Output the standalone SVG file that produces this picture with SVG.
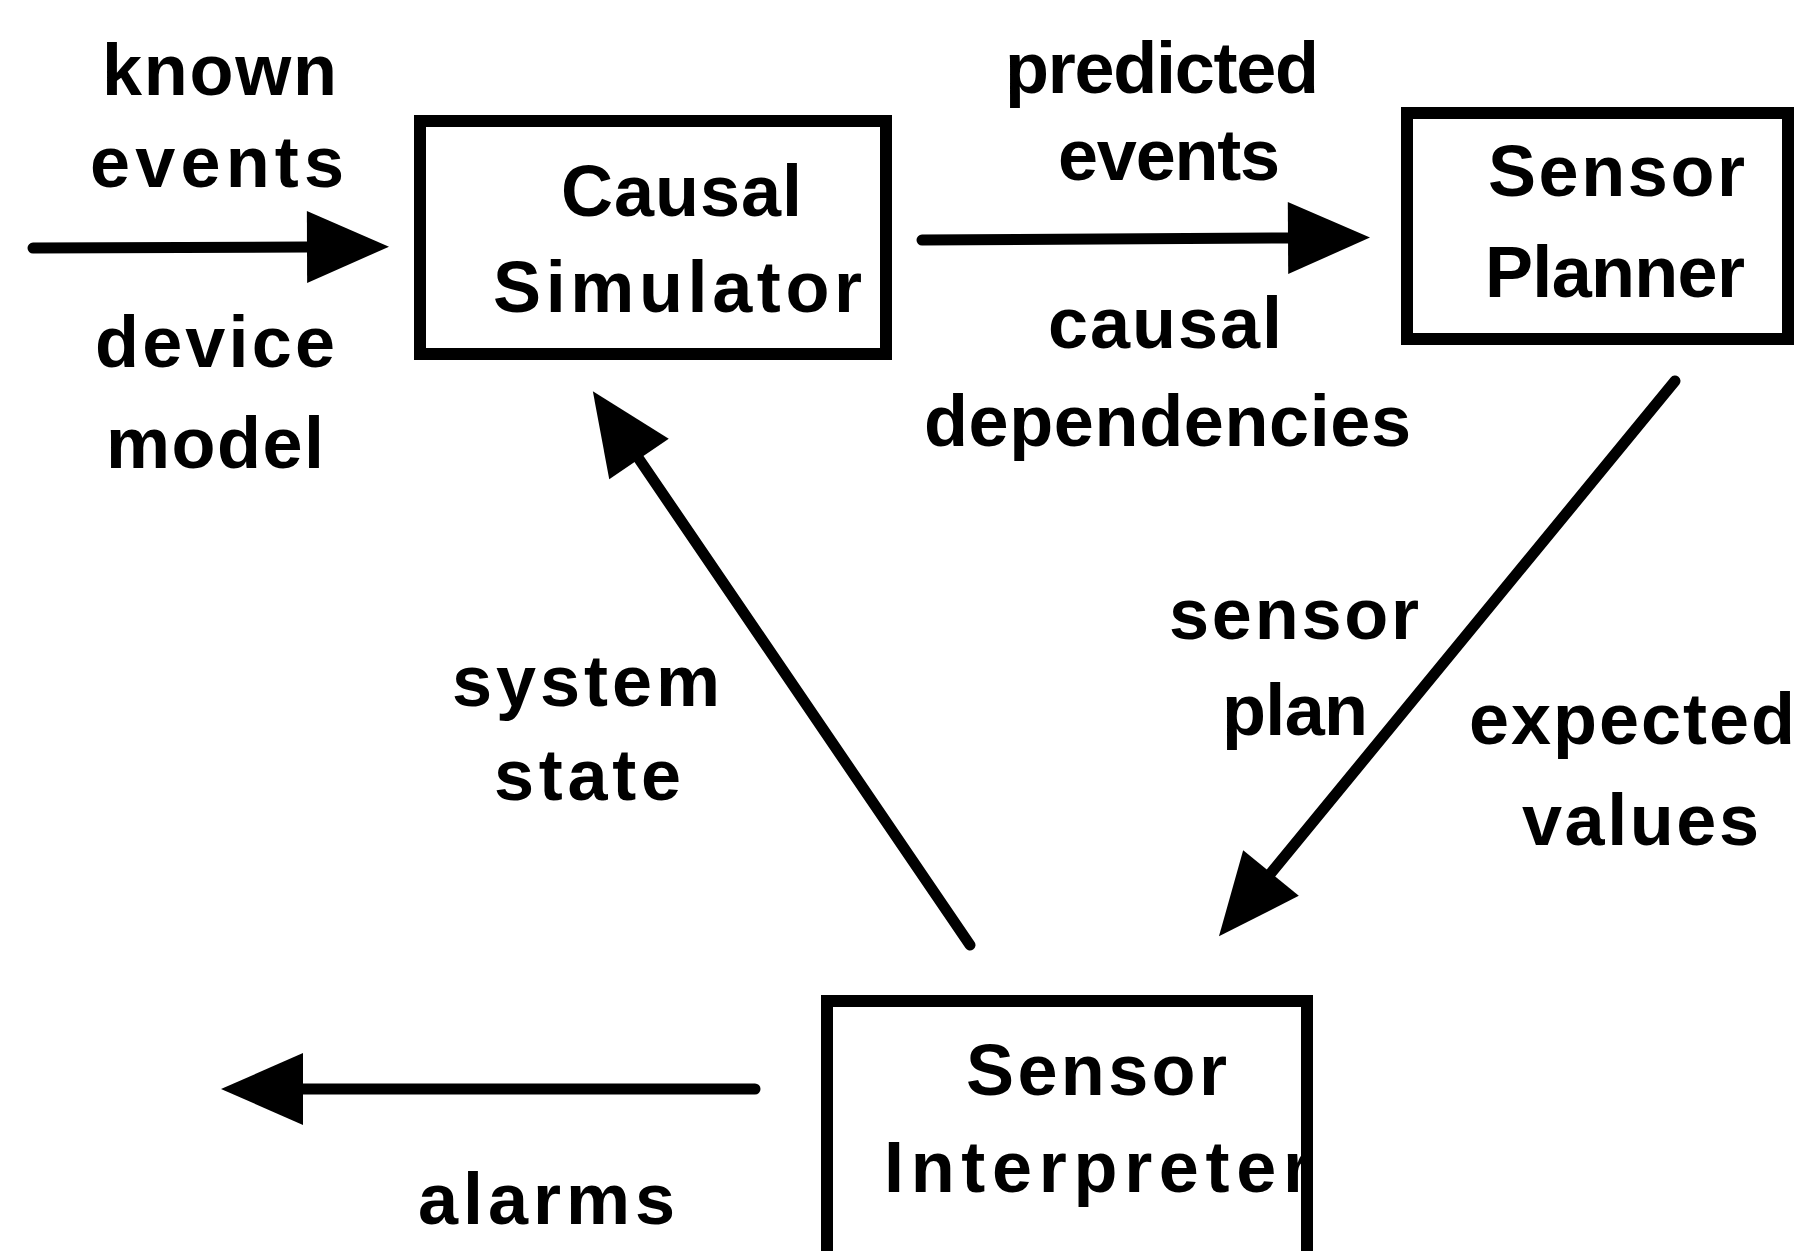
<svg xmlns="http://www.w3.org/2000/svg" width="1804" height="1251" viewBox="0 0 1804 1251">
  <style>
    .box { fill: #ffffff; stroke: #000000; stroke-width: 12; }
    .wire { fill: none; stroke: #000000; stroke-width: 11; stroke-linecap: round; marker-end: url(#head); }
    text { font-family: "Liberation Sans", Arial, Helvetica, sans-serif; font-weight: bold; font-size: 72px; fill: #000000; }
  </style>
  <defs>
    <marker id="head" markerUnits="userSpaceOnUse" markerWidth="90" markerHeight="80" refX="0" refY="0" viewBox="0 -40 90 80" orient="auto" overflow="visible">
      <path d="M0,-36 L82,0 L0,36 Z" fill="#000000"/>
    </marker>
  </defs>

  <rect width="1804" height="1251" fill="#ffffff"/>

  <!-- connectors -->
  <g id="connectors">
    <path class="wire" d="M33,248 L307,247"/>
    <path class="wire" d="M922,240 L1288,238"/>
    <path class="wire" d="M1675,381 L1271,873"/>
    <path class="wire" d="M970,945 L639,459"/>
    <path class="wire" d="M755,1089 L303,1089"/>
  </g>

  <!-- connector labels -->
  <g id="labels">
    <text x="102" y="95" textLength="235" lengthAdjust="spacing">known</text>
    <text x="90" y="187" textLength="254" lengthAdjust="spacing">events</text>
    <text x="95" y="367" textLength="240" lengthAdjust="spacing">device</text>
    <text x="106" y="468" textLength="218" lengthAdjust="spacing">model</text>

    <text x="1005" y="93" textLength="314" lengthAdjust="spacing">predicted</text>
    <text x="1058" y="180" textLength="222" lengthAdjust="spacing">events</text>
    <text x="1048" y="348" textLength="234" lengthAdjust="spacing">causal</text>
    <text x="924" y="446" textLength="487" lengthAdjust="spacing">dependencies</text>

    <text x="1169" y="639" textLength="250" lengthAdjust="spacing">sensor</text>
    <text x="1222" y="735" textLength="146" lengthAdjust="spacing">plan</text>
    <text x="1469" y="744" textLength="326" lengthAdjust="spacing">expected</text>
    <text x="1522" y="845" textLength="237" lengthAdjust="spacing">values</text>

    <text x="452" y="706" textLength="268" lengthAdjust="spacing">system</text>
    <text x="494" y="800" textLength="187" lengthAdjust="spacing">state</text>

    <text x="418" y="1224" textLength="257" lengthAdjust="spacing">alarms</text>
  </g>

  <!-- nodes -->
  <g id="causal-simulator">
    <rect class="box" x="420" y="121" width="466" height="233"/>
    <text x="561" y="216" textLength="241" lengthAdjust="spacing">Causal</text>
    <text x="493" y="312" textLength="369" lengthAdjust="spacing">Simulator</text>
  </g>

  <g id="sensor-planner">
    <rect class="box" x="1407" y="113" width="381" height="226"/>
    <text x="1488" y="196" textLength="257" lengthAdjust="spacing">Sensor</text>
    <text x="1485" y="297" textLength="260" lengthAdjust="spacing">Planner</text>
  </g>

  <g id="sensor-interpreter">
    <rect class="box" x="827" y="1001" width="480" height="300"/>
    <text x="966" y="1095" textLength="261" lengthAdjust="spacing">Sensor</text>
    <text x="884" y="1192" textLength="427" lengthAdjust="spacing">Interpreter</text>
  </g>
</svg>
